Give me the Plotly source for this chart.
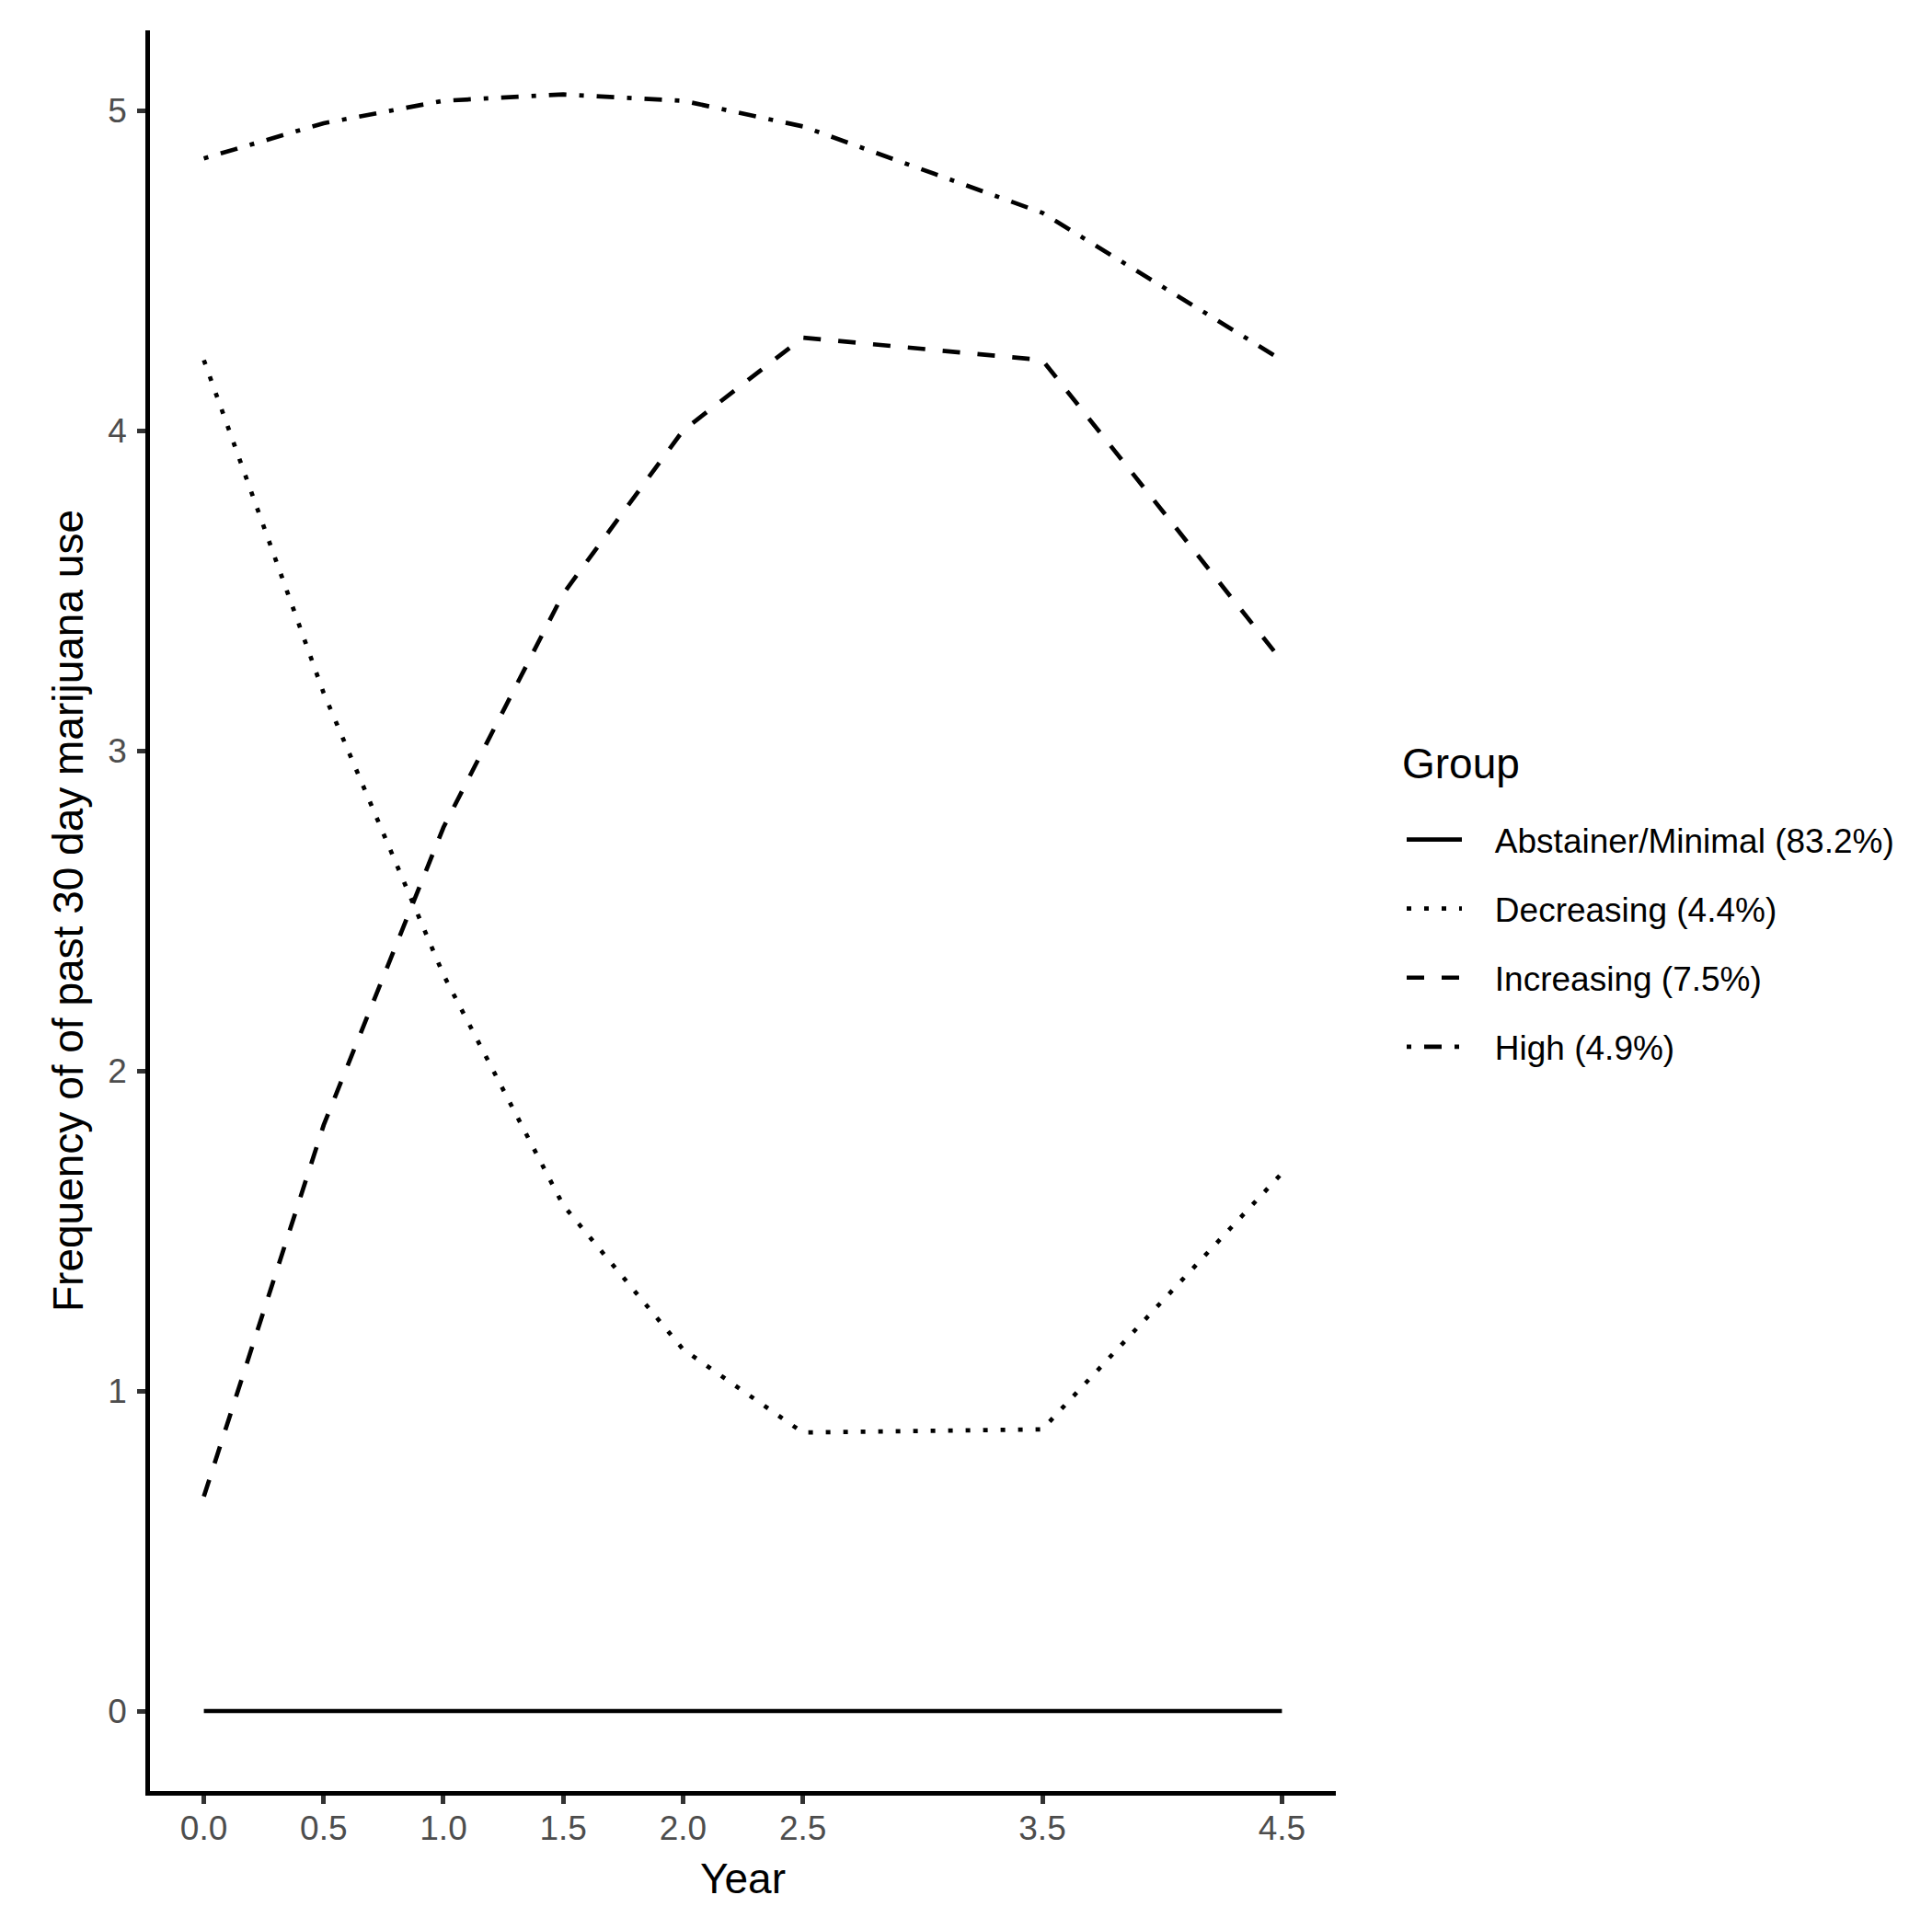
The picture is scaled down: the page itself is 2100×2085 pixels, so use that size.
import plotly.graph_objects as go

# ---- data ----
years = [0.0, 0.5, 1.0, 1.5, 2.0, 2.5, 3.5, 4.5]
x_tick_labels = ["0.0", "0.5", "1.0", "1.5", "2.0", "2.5", "3.5", "4.5"]
y_ticks = [0, 1, 2, 3, 4, 5]
y_tick_labels = ["0", "1", "2", "3", "4", "5"]

abstainer = [0.0, 0.0, 0.0, 0.0, 0.0, 0.0, 0.0, 0.0]
decreasing = [4.22, 3.18, 2.30, 1.58, 1.13, 0.87, 0.88, 1.68]
increasing = [0.67, 1.83, 2.76, 3.49, 4.00, 4.29, 4.22, 3.28]
high = [4.85, 4.96, 5.03, 5.05, 5.03, 4.95, 4.68, 4.22]

group_names = [
    "Abstainer/Minimal (83.2%)",
    "Decreasing (4.4%)",
    "Increasing (7.5%)",
    "High (4.9%)",
]
legend_title = "Group"
series = [abstainer, decreasing, increasing, high]
dashes = ["solid", "5px,14px", "19px,19px", "5px,14px,19px,14px"]

FONT = "Liberation Sans, Arial, Helvetica, sans-serif"
LW = 4.7
PAD = "\u00a0\u00a0\u00a0"   # gap between legend key and label

# page body has an 8px margin, so the figure is 2092x2077 and shifted
W, H = 2092, 2077
ML, MR, MT, MB = 155, 648, 25, 138

fig = go.Figure()
for name, vals, dash in zip(group_names, series, dashes):
    fig.add_trace(go.Scatter(
        x=years, y=vals, mode="lines", name=PAD + name,
        legendgroup=name,
        line=dict(color="black", width=LW, dash=dash),
    ))

plot_w = W - ML - MR
plot_h = H - MT - MB

fig.update_layout(
    width=W, height=H,
    margin=dict(l=ML, r=MR, t=MT, b=MB),
    paper_bgcolor="white", plot_bgcolor="white",
    font=dict(family=FONT, color="black"),
    showlegend=True,
    legend=dict(
        font=dict(size=37, color="black"),
        xref="container", yref="container",
        x=1516 / W, y=1 - 874 / H, xanchor="left", yanchor="top",
        tracegroupgap=24,
        itemwidth=60,
        bgcolor="rgba(0,0,0,0)",
    ),
    annotations=[dict(
        text=legend_title, showarrow=False,
        xref="paper", yref="paper",
        x=(1514 - ML) / plot_w, y=(H - MB - 822) / plot_h,
        xanchor="left", yanchor="middle",
        font=dict(size=46, color="black", family=FONT),
    )],
)

axis_common = dict(
    showgrid=False, zeroline=False,
    showline=True, linecolor="black", linewidth=LW,
    ticks="outside", ticklen=9, tickwidth=LW, tickcolor="#333333",
    tickfont=dict(size=37, color="#4D4D4D", family=FONT),
    title_font=dict(size=46, color="black", family=FONT),
)

fig.update_xaxes(
    range=[-0.225, 4.725],
    tickmode="array", tickvals=years, ticktext=x_tick_labels,
    title=dict(text="Year", standoff=20),
    ticklabelstandoff=-5,
    **axis_common,
)
fig.update_yaxes(
    range=[-0.25, 5.25],
    tickmode="array", tickvals=y_ticks, ticktext=y_tick_labels,
    title=dict(text="Frequency of of past 30 day marijuana use", standoff=14),
    ticklabelstandoff=4,
    **axis_common,
)

fig.write_html("out.html")
